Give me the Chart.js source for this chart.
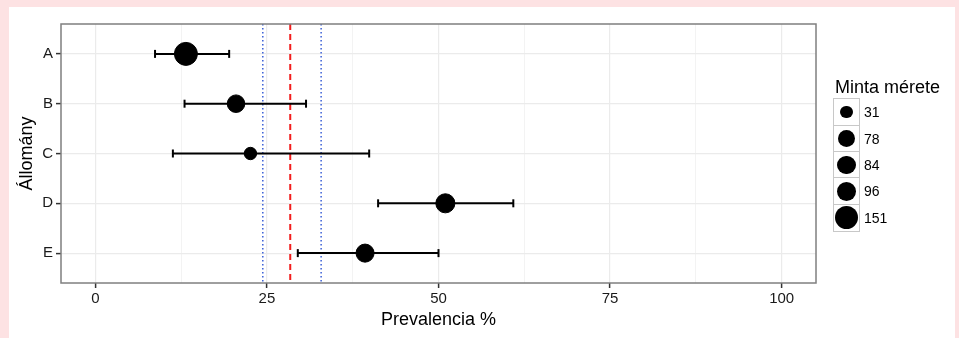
<!DOCTYPE html>
<html>
<head>
<meta charset="utf-8">
<script src="https://cdn.jsdelivr.net/npm/chart.js@4.4.0/dist/chart.umd.min.js"></script>
<style>
  body { margin: 0; background: #fde2e3; width: 959px; height: 338px; overflow: hidden;
         font-family: "Liberation Sans", Arial, sans-serif; }
  #panel { position: absolute; left: 9px; top: 7px; width: 946px; height: 331px; background: #fff; }
  #chart { position: absolute; left: 0; top: 0; }
  #legend { position: absolute; left: 833px; top: 76px; color: #000; }
  #legend .title { font-size: 18px; line-height: 22px; margin-left: 2px; margin-bottom: 1px; }
  #legend .row { display: flex; align-items: center; height: 26.4px; }
  #legend .key { box-sizing: border-box; width: 27px; height: 27.9px; border: 1.5px solid #c8c8c8;
                 display: flex; align-items: center; justify-content: center; background: #fff; }
  #legend .key i { display: block; border-radius: 50%; background: #000; }
  #legend .lab { font-size: 14px; margin-left: 4px; }
</style>
</head>
<body>
<div id="panel"></div>
<canvas id="chart" width="959" height="338"></canvas>
<div id="legend"><div class="title">Minta mérete</div></div>
<script>
// data
const groups = ['A', 'B', 'C', 'D', 'E'];
const prevalence = [13.2, 20.5, 22.6, 51.0, 39.3];
const ciLow = [8.7, 13.0, 11.3, 41.2, 29.5];
const ciHigh = [19.5, 30.7, 39.9, 60.9, 50.0];
const sampleSize = [151, 78, 31, 96, 84];
const legendSizes = [31, 78, 84, 96, 151];
const overall = 28.4;
const overallLow = 24.4;
const overallHigh = 32.9;
const xTicks = [0, 25, 50, 75, 100];
const xMinor = [12.5, 37.5, 62.5, 87.5];

// size scale (area-like, on sqrt of n)
function radiusFor(n) {
  const lo = Math.sqrt(Math.min(...legendSizes)), hi = Math.sqrt(Math.max(...legendSizes));
  return 6.2 + (Math.sqrt(n) - lo) / (hi - lo) * 5.3;
}

const yTop = -0.6, yBottom = groups.length - 1 + 0.6;
const FONT = '"Liberation Sans", Arial, sans-serif';

function vline(x, color, dash, width) {
  return {
    type: 'line',
    data: [{x: x, y: yTop}, {x: x, y: yBottom}],
    borderColor: color,
    borderWidth: width,
    borderDash: dash,
    pointRadius: 0,
    showLine: true
  };
}

const datasets = [];

// points
datasets.push({
  type: 'scatter',
  data: groups.map((g, i) => ({x: prevalence[i], y: i})),
  backgroundColor: '#000',
  borderColor: '#000',
  pointRadius: sampleSize.map(radiusFor),
  pointHoverRadius: sampleSize.map(radiusFor)
});

// error bars
groups.forEach((g, i) => {
  datasets.push({
    type: 'line',
    data: [{x: ciLow[i], y: i}, {x: ciHigh[i], y: i}],
    borderColor: '#000',
    borderWidth: 2,
    pointStyle: 'line',
    pointRotation: 90,
    pointRadius: 4,
    pointBorderColor: '#000',
    pointBorderWidth: 2,
    showLine: true
  });
});

// reference lines
datasets.push(vline(overall, '#f21d1d', [6, 4], 2));
datasets.push(vline(overallLow, '#3a5fd6', [1.5, 2.5], 1.5));
datasets.push(vline(overallHigh, '#3a5fd6', [1.5, 2.5], 1.5));

const panelBorder = {
  id: 'panelBorder',
  afterDatasetsDraw(chart) {
    const {ctx, chartArea: a} = chart;
    ctx.save();
    ctx.strokeStyle = '#7f7f7f';
    ctx.lineWidth = 1.5;
    ctx.strokeRect(a.left, a.top, a.right - a.left, a.bottom - a.top);
    ctx.restore();
  }
};

const allX = xTicks.concat(xMinor).sort((a, b) => a - b);

new Chart(document.getElementById('chart').getContext('2d'), {
  type: 'scatter',
  data: {datasets: datasets},
  plugins: [panelBorder],
  options: {
    responsive: false,
    animation: false,
    devicePixelRatio: 1,
    layout: {padding: {left: 9, top: 24, right: 143, bottom: 0}},
    plugins: {legend: {display: false}, tooltip: {enabled: false}},
    scales: {
      x: {
        type: 'linear',
        min: -5,
        max: 105,
        afterBuildTicks: s => { s.ticks = allX.map(v => ({value: v})); },
        afterFit: s => { s.height = 55; },
        border: {display: false},
        grid: {
          color: '#ebebeb',
          lineWidth: c => xTicks.includes(c.tick.value) ? 1.2 : 0.6,
          tickColor: c => xTicks.includes(c.tick.value) ? '#333' : 'rgba(0,0,0,0)',
          tickLength: 5,
          tickWidth: 1.5
        },
        ticks: {
          color: '#1a1a1a',
          font: {family: FONT, size: 15},
          padding: 2,
          maxRotation: 0,
          callback: v => xTicks.includes(v) ? String(v) : ''
        },
        title: {
          display: true,
          text: 'Prevalencia %',
          color: '#000',
          font: {family: FONT, size: 18},
          padding: {top: 0, bottom: 7}
        }
      },
      y: {
        type: 'linear',
        min: yTop,
        max: yBottom,
        reverse: true,
        afterBuildTicks: s => { s.ticks = groups.map((g, i) => ({value: i})); },
        afterFit: s => { s.width = 52; },
        border: {display: false},
        grid: {
          color: '#ebebeb',
          lineWidth: 1.2,
          tickColor: '#333',
          tickLength: 5,
          tickWidth: 1.5
        },
        ticks: {
          color: '#1a1a1a',
          font: {family: FONT, size: 15},
          padding: 3,
          callback: v => groups[v]
        },
        title: {
          display: true,
          text: 'Állomány',
          color: '#000',
          font: {family: FONT, size: 18},
          padding: {top: 7, bottom: 0}
        }
      }
    }
  }
});

// legend for sample size
const legend = document.getElementById('legend');
legendSizes.forEach(n => {
  const d = 2 * radiusFor(n);
  const row = document.createElement('div');
  row.className = 'row';
  row.innerHTML = '<span class="key"><i style="width:' + d + 'px;height:' + d + 'px"></i></span>' +
                  '<span class="lab">' + n + '</span>';
  legend.appendChild(row);
});
</script>
</body>
</html>
